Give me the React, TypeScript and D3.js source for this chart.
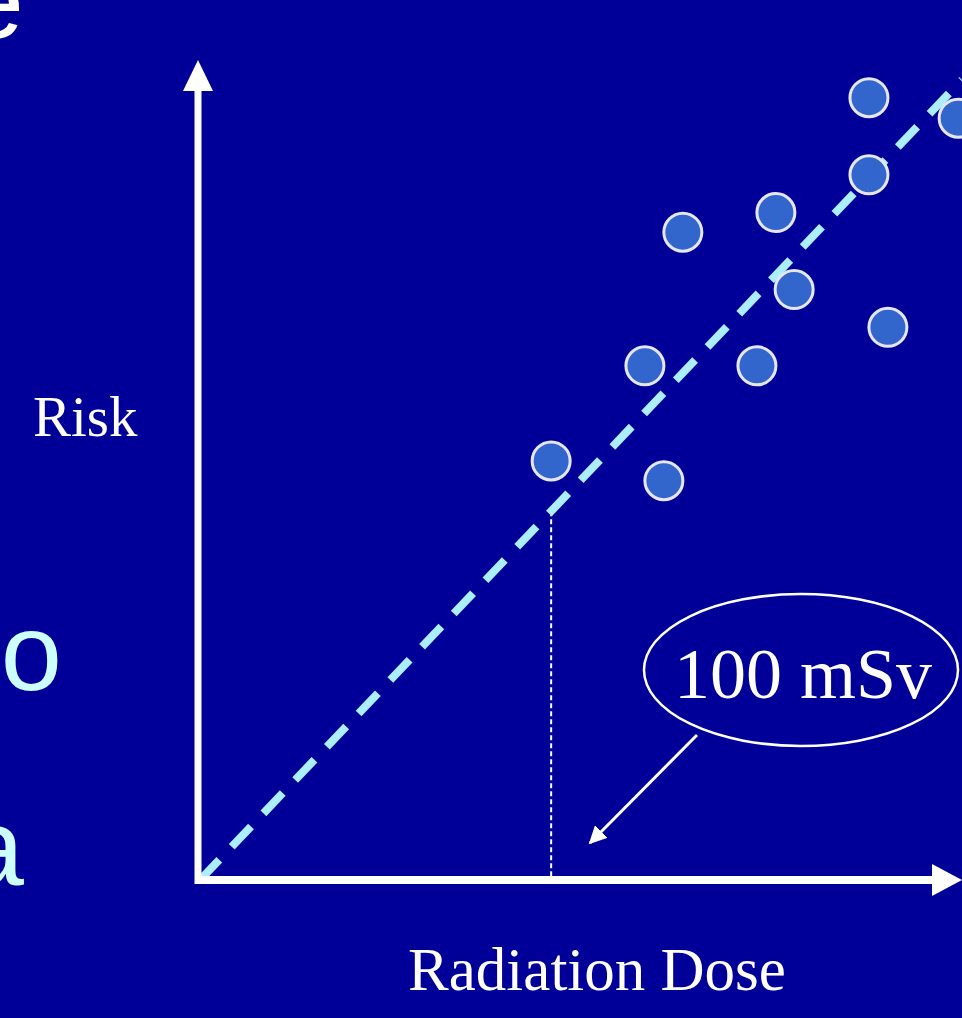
import React from "react";
import * as d3 from "d3";

// Data (dose in mSv, risk in arbitrary %)
const doses = [190.5, 215.9, 190.5, 164.0, 137.5, 169.2, 195.9, 126.7, 158.6, 100.0, 132.1];
const risks = [95.4, 92.9, 86.0, 81.4, 79.0, 72.0, 67.4, 62.7, 62.7, 51.1, 48.7];
const lineDoses = [0, 217];
const lineRisks = [0, 97.6];
const thresholdDose = 100;
const thresholdLabel = "100 mSv";
const xLabel = "Radiation Dose";
const yLabel = "Risk";
const sideFragments = ["e", "to", "a"];

const W = 962;
const H = 1018;
const BG = "#000099";

export default function App() {
  const x = d3.scaleLinear().domain([0, 217]).range([200, 962]);
  const y = d3.scaleLinear().domain([0, 100]).range([880, 60]);
  const line = d3
    .line<number>()
    .x((d) => x(lineDoses[d]))
    .y((d) => y(lineRisks[d]));
  const lineD = line([0, 1]) || "";
  const thX = x(thresholdDose);
  const thY = y(lineRisks[1] * (thresholdDose / lineDoses[1]));
  const x0 = x(0);
  const y0 = y(0);

  return (
    <svg
      width={W}
      height={H}
      style={{ position: "absolute", left: 0, top: 0, display: "block" }}
    >
      <defs>
        <marker
          id="ann"
          viewBox="0 0 10 10"
          refX="9"
          refY="5"
          markerWidth="6"
          markerHeight="6"
          markerUnits="strokeWidth"
          orient="auto"
        >
          <path d="M0,0 L10,5 L0,10 Z" fill="#ffffff" />
        </marker>
      </defs>
      <rect width={W} height={H} fill={BG} />

      {/* slide text fragments */}
      <g fontFamily="Liberation Sans, Arial, sans-serif" fontSize={110}>
        <text x={24} y={38} textAnchor="end" fill="#ffffff">
          {sideFragments[0]}
        </text>
        <text x={62} y={690} textAnchor="end" fill="#ccffff">
          {sideFragments[1]}
        </text>
        <text x={24} y={885} textAnchor="end" fill="#ccffff">
          {sideFragments[2]}
        </text>
      </g>

      {/* threshold vertical */}
      <line
        x1={thX}
        x2={thX}
        y1={thY}
        y2={y0}
        stroke="#ffffff"
        strokeWidth={2}
        strokeDasharray="5,3"
      />

      {/* linear no-threshold line */}
      <path
        d={lineD}
        fill="none"
        stroke="#aaeeff"
        strokeWidth={8}
        strokeDasharray="28,18"
      />

      {/* axes */}
      <line x1={x0 - 2} x2={x0 - 2} y1={y0 + 4} y2={88} stroke="#ffffff" strokeWidth={7} />
      <path d={`M${x0 - 2},60 L${x0 - 17},91 L${x0 + 13},91 Z`} fill="#ffffff" />
      <line x1={x0 - 5} x2={934} y1={y0} y2={y0} stroke="#ffffff" strokeWidth={8} />
      <path d={`M962,${y0} L932,${y0 - 16} L932,${y0 + 16} Z`} fill="#ffffff" />

      {/* points */}
      {doses.map((d, i) => (
        <circle
          key={i}
          cx={x(d)}
          cy={y(risks[i])}
          r={19}
          fill="#3366cc"
          stroke="#e6e6f0"
          strokeWidth={3}
        />
      ))}

      {/* annotation */}
      <ellipse cx={801} cy={670} rx={157} ry={76} fill="none" stroke="#ffffff" strokeWidth={2.5} />
      <line
        x1={697}
        y1={735}
        x2={590}
        y2={843}
        stroke="#ffffff"
        strokeWidth={3}
        markerEnd="url(#ann)"
      />
      <text
        x={803}
        y={698}
        textAnchor="middle"
        fill="#ffffff"
        fontFamily="Liberation Serif, Times New Roman, serif"
        fontSize={72}
      >
        {thresholdLabel}
      </text>

      {/* labels */}
      <text
        x={597}
        y={990}
        textAnchor="middle"
        fill="#ffffff"
        fontFamily="Liberation Serif, Times New Roman, serif"
        fontSize={61}
      >
        {xLabel}
      </text>
      <text
        x={33}
        y={436}
        fill="#ffffff"
        fontFamily="Liberation Serif, Times New Roman, serif"
        fontSize={57}
      >
        {yLabel}
      </text>
    </svg>
  );
}
